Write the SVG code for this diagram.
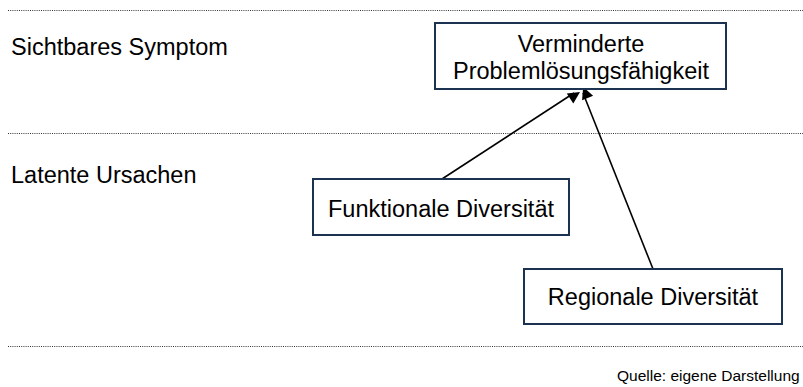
<svg xmlns="http://www.w3.org/2000/svg" width="803" height="387" viewBox="0 0 803 387">
<style>
.sep{stroke:#333;stroke-width:1;stroke-dasharray:1 1.2}
.box{fill:#fff;stroke:#1b3350;stroke-width:2}
.t{font-family:"Liberation Sans",Arial,sans-serif;font-size:23.5px;fill:#000}
.c{text-anchor:middle}
.conn{stroke:#000;stroke-width:1.6;fill:none}
</style>
<defs>
<marker id="ah" viewBox="0 0 10 10" refX="9" refY="5" markerWidth="7" markerHeight="7" markerUnits="userSpaceOnUse" orient="auto" overflow="visible">
<path d="M0,0 L10,5 L0,10 z" fill="#000" transform="scale(1.7)" />
</marker>
</defs>
<rect width="803" height="387" fill="#fff"/>
<line class="sep" x1="8" y1="10.5" x2="803" y2="10.5"/>
<line class="sep" x1="8" y1="133.5" x2="803" y2="133.5"/>
<line class="sep" x1="8" y1="346.5" x2="803" y2="346.5"/>
<text class="t" x="11" y="55">Sichtbares Symptom</text>
<text class="t" x="11" y="183">Latente Ursachen</text>
<g id="connectors">
<path class="conn" d="M442,179 L574,93" marker-end="url(#ah)"/>
<path class="conn" d="M653,269 L583,93" marker-end="url(#ah)"/>
</g>
<g id="symptom">
<rect class="box" x="435" y="23" width="291" height="66"/>
<text class="t c" x="581" y="52">Verminderte</text>
<text class="t c" x="581" y="79">Problemlösungsfähigkeit</text>
</g>
<g id="funktional">
<rect class="box" x="313" y="179" width="256" height="56"/>
<text class="t c" x="441" y="217">Funktionale Diversität</text>
</g>
<g id="regional">
<rect class="box" x="524" y="269" width="258" height="55"/>
<text class="t c" x="653" y="305">Regionale Diversität</text>
</g>
<text x="617" y="381" style="font-family:'Liberation Sans',Arial,sans-serif;font-size:15.5px;fill:#000">Quelle: eigene Darstellung</text>
</svg>
